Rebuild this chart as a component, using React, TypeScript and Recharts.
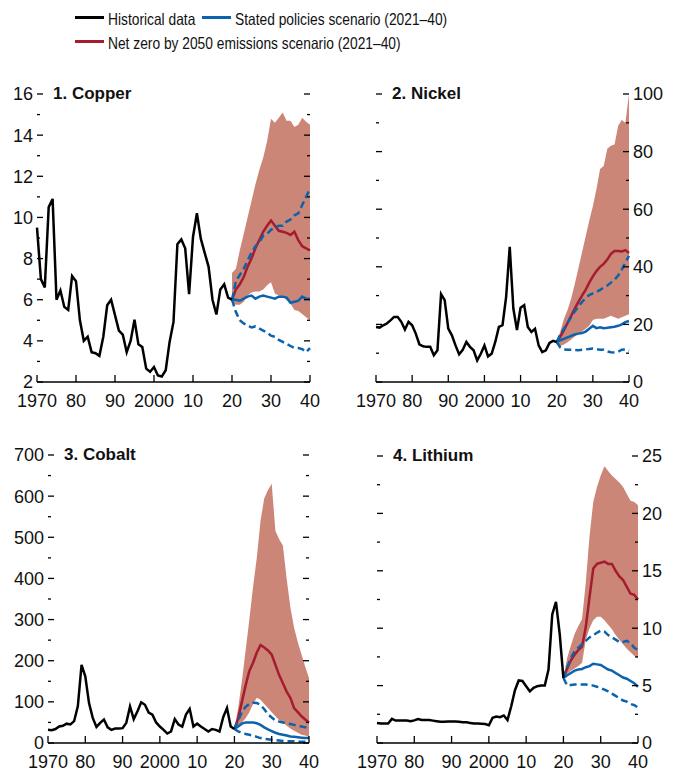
import React from "react";
import { ComposedChart, Area, Line, XAxis, YAxis } from "recharts";

const BLACK = "#000000";
const RED = "#a51b2f";
const BLUE = "#0b63ad";
const BAND = "#cb8677";
const TICK_FONT = "'Liberation Sans', Arial, sans-serif";

// years: history 1970-2020, scenarios 2020-2040
const histYears = Array.from({ length: 51 }, (_, i) => 1970 + i);
const scenYears = Array.from({ length: 21 }, (_, i) => 2020 + i);
const xTicks = [1970, 1980, 1990, 2000, 2010, 2020, 2030, 2040];
const xTickLabels = ["1970", "80", "90", "2000", "10", "20", "30", "40"];

// 1. Copper
const copperTicks = [2, 3, 4, 5, 6, 7, 8, 9, 10, 11, 12, 13, 14, 15, 16];
const copperHist = [
  9.5, 7.0, 6.6, 10.5, 10.9, 6.0, 6.45, 5.65, 5.5, 7.15,
  6.9, 5.0, 4.0, 4.2, 3.45, 3.4, 3.27, 4.2, 5.73, 6.0,
  5.25, 4.5, 4.3, 3.45, 4.0, 5.03, 3.83, 3.7, 2.65, 2.5,
  2.73, 2.32, 2.27, 2.57, 3.95, 4.92, 8.7, 8.93, 8.5, 6.27,
  9.05, 10.2, 8.97, 8.28, 7.6, 6.0, 5.28, 6.5, 6.75, 6.1,
  6.0,
];
const copperNzeMed = [6.0, 6.5, 6.75, 7.1, 7.6, 8.0, 8.5, 8.9, 9.3, 9.6, 9.85, 9.6, 9.35, 9.3, 9.25, 9.15, 9.3, 8.9, 8.6, 8.5, 8.4];
const copperNzeHi = [7.3, 7.5, 8.4, 9.2, 10.0, 10.8, 11.6, 12.3, 12.9, 13.7, 14.8, 14.6, 14.85, 15.1, 14.7, 14.7, 14.4, 14.5, 14.85, 14.65, 14.5];
const copperNzeLo = [5.9, 5.75, 5.75, 5.9, 6.2, 6.35, 6.4, 6.4, 6.5, 6.7, 6.85, 6.3, 6.2, 6.15, 6.0, 5.8, 5.5, 5.45, 5.3, 5.15, 5.0];
const copperStepsMed = [6.0, 6.0, 5.95, 6.05, 6.15, 6.2, 6.05, 6.15, 6.2, 6.15, 6.1, 6.05, 6.15, 6.15, 6.1, 5.85, 5.9, 5.95, 6.15, 6.05, 6.05];
const copperStepsHi = [6.0, 6.9, 7.2, 7.5, 7.9, 8.3, 8.6, 8.8, 9.1, 9.2, 9.4, 9.5, 9.6, 9.6, 9.8, 9.9, 10.1, 10.2, 10.6, 11.0, 11.4];
const copperStepsLo = [6.0, 5.4, 5.0, 4.85, 4.75, 4.65, 4.7, 4.6, 4.5, 4.4, 4.25, 4.2, 4.05, 3.95, 3.85, 3.75, 3.65, 3.65, 3.6, 3.45, 3.65];

// 2. Nickel
const nickelTicks = [0, 10, 20, 30, 40, 50, 60, 70, 80, 90, 100];
const nickelHist = [
  19.1, 18.9, 19.7, 20.3, 21.4, 22.6, 22.6, 20.9, 18.2, 20.9,
  19.7, 16.8, 13.1, 12.4, 12.2, 12.2, 9.3, 11.0, 30.5, 28.4,
  18.5, 16.2, 12.7, 9.6, 11.2, 13.9, 12.2, 11.0, 7.5, 9.8,
  12.7, 8.9, 9.8, 13.9, 19.1, 19.7, 29.5, 46.9, 25.5, 18.0,
  25.8, 26.7, 19.1, 17.4, 18.5, 12.7, 10.4, 11.0, 13.6, 14.3,
  13.9,
];
const nickelNzeMed = [13.9, 15.8, 18.0, 20.5, 23, 25.5, 27.8, 30, 32, 34.5, 36.7, 38.5, 40, 41, 42.5, 44.5, 45.5, 45.5, 45.3, 45.8, 44.8];
const nickelNzeHi = [14.5, 17.5, 22, 25, 29, 34, 39.5, 45, 50.5, 56, 61, 67, 74, 75, 81, 82, 82.5, 89, 91, 90, 100];
const nickelNzeLo = [13.5, 12.5, 13.0, 13.8, 14.8, 15.8, 16.8, 17.5, 18.5, 19.5, 21.5, 22, 22, 22, 22.5, 23, 22.5, 22, 22.5, 23, 23.5];
const nickelStepsMed = [13.9, 14.5, 15.0, 15.5, 16.0, 16.5, 16.8, 17.0, 17.5, 18.5, 19.5, 18.7, 19.0, 18.7, 18.8, 19.0, 19.2, 19.5, 20.0, 20.8, 21.2];
const nickelStepsHi = [13.9, 16.5, 18.5, 20.5, 22.5, 24.5, 26.2, 27.8, 29.2, 30.2, 30.8, 31.3, 32, 32.8, 33.5, 34.5, 35.5, 37, 39, 41.5, 43.8];
const nickelStepsLo = [13.9, 12, 11.3, 11.2, 11.2, 11.1, 11.0, 11.2, 11.3, 11.5, 11.6, 11.4, 11.2, 11.2, 10.6, 10.3, 10.2, 10.5, 11.2, 11.3, 10.8];

// 3. Cobalt
const cobaltTicks = [0, 50, 100, 150, 200, 250, 300, 350, 400, 450, 500, 550, 600, 650, 700];
const cobaltHist = [
  32, 31, 34, 40, 42, 47, 45, 53, 89, 190,
  162, 97, 61, 39, 49, 57, 38, 32, 35, 35,
  36, 49, 89, 58, 77, 99, 93, 74, 69, 50,
  40, 32, 23, 28, 58, 45, 40, 69, 83, 40,
  47, 40, 34, 28, 34, 32, 28, 63, 85, 40,
  34,
];
const cobaltNzeMed = [34, 60, 100, 140, 175, 195, 220, 238, 232, 225, 215, 190, 165, 145, 125, 110, 85, 75, 65, 57, 50];
const cobaltNzeHi = [34, 85, 150, 225, 300, 380, 450, 540, 595, 615, 630, 515, 495, 480, 400, 330, 280, 245, 215, 185, 158];
const cobaltNzeLo = [34, 40, 50, 60, 75, 95, 110, 105, 95, 85, 75, 65, 55, 50, 42, 35, 30, 25, 20, 18, 15];
const cobaltStepsMed = [34, 40, 47, 50, 50, 50, 48, 44, 38, 33, 29, 25, 22, 20, 18, 16, 15, 14, 13, 12, 12];
const cobaltStepsHi = [34, 55, 75, 88, 95, 98, 97, 93, 82, 70, 62, 55, 52, 50, 48, 46, 44, 42, 40, 38, 38];
const cobaltStepsLo = [34, 28, 25, 22, 20, 18, 15, 12, 10, 9, 8, 7, 6, 5, 4, 4, 4, 3, 3, 3, 3];

// 4. Lithium
const lithiumTicks = [0, 2.5, 5, 7.5, 10, 12.5, 15, 17.5, 20, 22.5, 25];
const lithiumHist = [
  1.75, 1.7, 1.7, 1.7, 2.1, 1.95, 1.95, 1.95, 1.95, 1.9,
  1.97, 2.09, 2.0, 2.0, 2.0, 1.95, 1.9, 1.85, 1.85, 1.87,
  1.88, 1.88, 1.85, 1.8, 1.8, 1.75, 1.7, 1.7, 1.68, 1.65,
  1.55, 2.2, 2.3, 2.25, 2.4, 2.0, 3.2, 4.6, 5.45, 5.4,
  4.95, 4.5, 4.8, 4.95, 5.0, 5.0, 6.4, 11.2, 12.3, 9.5,
  5.66,
];
const lithiumNzeMed = [5.66, 6.5, 7.2, 7.7, 8.1, 8.4, 10.1, 12.7, 15.2, 15.6, 15.7, 15.8, 15.6, 15.6, 15.0, 14.5, 14.2, 13.6, 13.0, 12.9, 12.5];
const lithiumNzeHi = [5.66, 7.4, 8.5, 9.5, 10.2, 10.8, 14.0, 18.0, 21.0, 22.3, 23.3, 24.1, 23.7, 23.3, 23.0, 22.7, 22.3, 21.7, 21.1, 21.0, 20.7];
const lithiumNzeLo = [5.66, 6.0, 6.3, 6.5, 6.7, 7.0, 9.0, 10.0, 10.7, 11.0, 11.0, 10.7, 10.3, 9.9, 9.4, 9.0, 8.6, 8.2, 7.9, 7.6, 7.4];
const lithiumStepsMed = [5.66, 5.9, 6.1, 6.3, 6.4, 6.45, 6.6, 6.7, 6.9, 6.85, 6.8, 6.6, 6.4, 6.3, 6.1, 5.9, 5.7, 5.6, 5.4, 5.2, 4.9];
const lithiumStepsHi = [5.66, 6.6, 7.4, 8.0, 8.3, 8.6, 8.9, 9.2, 9.4, 9.6, 9.8, 9.7, 9.4, 9.2, 9.0, 8.8, 8.8, 8.9, 8.7, 8.3, 8.1];
const lithiumStepsLo = [5.66, 5.0, 5.05, 5.1, 5.1, 5.1, 5.1, 5.05, 5.0, 4.9, 4.8, 4.65, 4.5, 4.3, 4.1, 3.9, 3.7, 3.6, 3.4, 3.3, 3.1];

type Series = {
  hist: number[];
  nzeMed: number[];
  nzeLo: number[];
  nzeHi: number[];
  stepsMed: number[];
  stepsLo: number[];
  stepsHi: number[];
};

function buildRows(s: Series) {
  const rows: any[] = [];
  for (let y = 1970; y <= 2040; y++) {
    const hi = histYears.indexOf(y);
    const si = scenYears.indexOf(y);
    rows.push({
      year: y,
      hist: hi >= 0 ? s.hist[hi] : null,
      band: si >= 0 ? [s.nzeLo[si], s.nzeHi[si]] : null,
      nzeMed: si >= 0 ? s.nzeMed[si] : null,
      stepsMed: si >= 0 ? s.stepsMed[si] : null,
      stepsHi: si >= 0 ? s.stepsHi[si] : null,
      stepsLo: si >= 0 ? s.stepsLo[si] : null,
    });
  }
  return rows;
}

type PanelProps = {
  title: string;
  series: Series;
  left: number;
  top: number;
  marginTop: number;
  plotHeight: number;
  leftW: number;
  rightW: number;
  domain: [number, number];
  ticks: number[];
  majorStep: number;
  labelSide: "left" | "right";
};

const XTick = (props: any) => {
  const { x, y, payload } = props;
  const i = xTicks.indexOf(payload.value);
  return (
    <g>
      <line x1={x} x2={x} y1={y} y2={y - 7} stroke={BLACK} strokeWidth={1.3} />
      <text x={x} y={y + 25} textAnchor="middle" fontFamily={TICK_FONT} fontSize={18} fill="#111">
        {xTickLabels[i]}
      </text>
    </g>
  );
};

function Panel(p: PanelProps) {
  const rows = buildRows(p.series);
  const width = 339;
  const height = p.marginTop + p.plotHeight + 30;
  const isMajor = (v: number) => Math.abs(v / p.majorStep - Math.round(v / p.majorStep)) < 1e-6;

  const leftTick = (props: any) => {
    const { x, y, payload } = props;
    const v = payload.value;
    const major = isMajor(v);
    return (
      <g>
        <line x1={x} x2={x + (major ? 6 : 3)} y1={y} y2={y} stroke={BLACK} strokeWidth={1.3} />
        {p.labelSide === "left" && major ? (
          <text x={x - 4} y={y} dy="0.36em" textAnchor="end" fontFamily={TICK_FONT} fontSize={18} fill="#111">
            {v}
          </text>
        ) : null}
      </g>
    );
  };
  const rightTick = (props: any) => {
    const { x, y, payload } = props;
    const v = payload.value;
    const major = isMajor(v);
    return (
      <g>
        <line x1={x - (major ? 6 : 3)} x2={x} y1={y} y2={y} stroke={BLACK} strokeWidth={1.3} />
        {p.labelSide === "right" && major ? (
          <text x={x + 4} y={y} dy="0.36em" textAnchor="start" fontFamily={TICK_FONT} fontSize={18} fill="#111">
            {v}
          </text>
        ) : null}
      </g>
    );
  };

  return (
    <div style={{ position: "absolute", left: p.left, top: p.top, width, height }}>
      <ComposedChart width={width} height={height} data={rows} margin={{ top: p.marginTop, right: 0, bottom: 0, left: 0 }}>
        <XAxis
          dataKey="year"
          type="number"
          domain={[1970, 2040]}
          ticks={xTicks}
          interval={0}
          height={30}
          tickSize={0}
          tickMargin={0}
          tickLine={false}
          axisLine={{ stroke: BLACK, strokeWidth: 1.3 }}
          tick={XTick}
        />
        <YAxis
          yAxisId="l"
          orientation="left"
          width={p.leftW}
          domain={p.domain}
          ticks={p.ticks}
          interval={0}
          allowDataOverflow
          tickSize={0}
          tickMargin={0}
          tickLine={false}
          axisLine={false}
          tick={leftTick}
        />
        <YAxis
          yAxisId="r"
          orientation="right"
          width={p.rightW}
          domain={p.domain}
          ticks={p.ticks}
          interval={0}
          allowDataOverflow
          tickSize={0}
          tickMargin={0}
          tickLine={false}
          axisLine={false}
          tick={rightTick}
        />
        <Area yAxisId="l" dataKey="band" stroke="none" fill={BAND} fillOpacity={1} isAnimationActive={false} connectNulls={false} />
        <Line yAxisId="l" dataKey="nzeMed" stroke={RED} strokeWidth={2.5} dot={false} isAnimationActive={false} />
        <Line yAxisId="l" dataKey="stepsMed" stroke={BLUE} strokeWidth={2.5} dot={false} isAnimationActive={false} />
        <Line yAxisId="l" dataKey="stepsHi" stroke={BLUE} strokeWidth={2.5} strokeDasharray="7 4" dot={false} isAnimationActive={false} />
        <Line yAxisId="l" dataKey="stepsLo" stroke={BLUE} strokeWidth={2.5} strokeDasharray="7 4" dot={false} isAnimationActive={false} />
        <Line yAxisId="l" dataKey="hist" stroke={BLACK} strokeWidth={2.5} dot={false} isAnimationActive={false} />
      </ComposedChart>
      <div
        style={{
          position: "absolute",
          left: p.leftW + 16,
          top: p.marginTop - 10,
          fontFamily: TICK_FONT,
          fontWeight: 700,
          fontSize: 17,
          lineHeight: "20px",
          whiteSpace: "nowrap",
          color: "#111",
        }}
      >
        {p.title}
      </div>
    </div>
  );
}

// legend text is a condensed face in the original, so squeeze it horizontally
const legendText: React.CSSProperties = {
  position: "absolute",
  fontFamily: TICK_FONT,
  fontSize: 16.5,
  lineHeight: "20px",
  whiteSpace: "nowrap",
  color: "#111",
  transform: "scaleX(0.835)",
  transformOrigin: "0 0",
};

export default function App() {
  return (
    <div style={{ position: "absolute", left: 0, top: 0, width: 678, height: 775, background: "#fff", overflow: "hidden" }}>
      <div style={{ position: "absolute", left: 75, top: 15.5, width: 29, height: 3, background: BLACK }} />
      <div style={{ ...legendText, left: 108, top: 9.3 }}>Historical data</div>
      <div style={{ position: "absolute", left: 202, top: 15.5, width: 29, height: 3, background: BLUE }} />
      <div style={{ ...legendText, left: 235, top: 9.3 }}>Stated policies scenario (2021–40)</div>
      <div style={{ position: "absolute", left: 75, top: 39.5, width: 29, height: 3, background: RED }} />
      <div style={{ ...legendText, left: 108, top: 33.3 }}>Net zero by 2050 emissions scenario (2021–40)</div>

      <Panel
        title="1. Copper"
        series={{ hist: copperHist, nzeMed: copperNzeMed, nzeLo: copperNzeLo, nzeHi: copperNzeHi, stepsMed: copperStepsMed, stepsLo: copperStepsLo, stepsHi: copperStepsHi }}
        left={0}
        top={70}
        marginTop={24}
        plotHeight={288}
        leftW={37}
        rightW={29}
        domain={[2, 16]}
        ticks={copperTicks}
        majorStep={2}
        labelSide="left"
      />
      <Panel
        title="2. Nickel"
        series={{ hist: nickelHist, nzeMed: nickelNzeMed, nzeLo: nickelNzeLo, nzeHi: nickelNzeHi, stepsMed: nickelStepsMed, stepsLo: nickelStepsLo, stepsHi: nickelStepsHi }}
        left={339}
        top={70}
        marginTop={24}
        plotHeight={288}
        leftW={37}
        rightW={49}
        domain={[0, 100]}
        ticks={nickelTicks}
        majorStep={20}
        labelSide="right"
      />
      <Panel
        title="3. Cobalt"
        series={{ hist: cobaltHist, nzeMed: cobaltNzeMed, nzeLo: cobaltNzeLo, nzeHi: cobaltNzeHi, stepsMed: cobaltStepsMed, stepsLo: cobaltStepsLo, stepsHi: cobaltStepsHi }}
        left={0}
        top={430}
        marginTop={25}
        plotHeight={288}
        leftW={48}
        rightW={30}
        domain={[0, 700]}
        ticks={cobaltTicks}
        majorStep={100}
        labelSide="left"
      />
      <Panel
        title="4. Lithium"
        series={{ hist: lithiumHist, nzeMed: lithiumNzeMed, nzeLo: lithiumNzeLo, nzeHi: lithiumNzeHi, stepsMed: lithiumStepsMed, stepsLo: lithiumStepsLo, stepsHi: lithiumStepsHi }}
        left={339}
        top={430}
        marginTop={26}
        plotHeight={287}
        leftW={38}
        rightW={40}
        domain={[0, 25]}
        ticks={lithiumTicks}
        majorStep={5}
        labelSide="right"
      />
    </div>
  );
}
